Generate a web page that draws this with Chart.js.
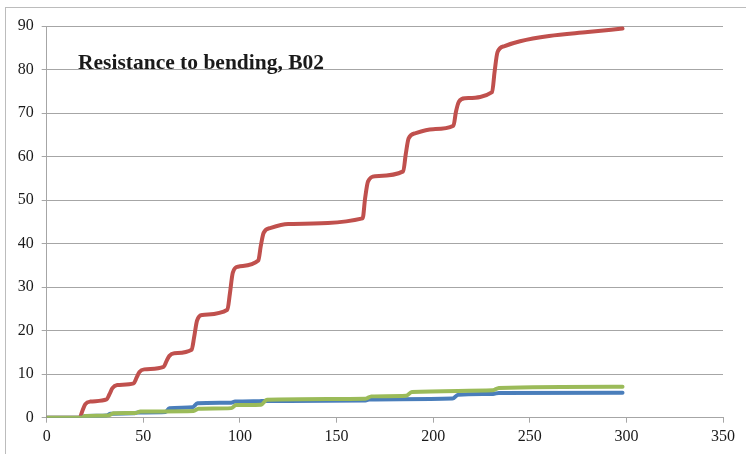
<!DOCTYPE html>
<html>
<head>
<meta charset="utf-8">
<script src="https://cdn.jsdelivr.net/npm/chart.js@4"></script>
<style>
  html, body { margin: 0; padding: 0; background: #fff; overflow: hidden; }
  #wrap { position: relative; width: 746px; height: 454px; }
  #frame { position: absolute; left: 5px; top: 7px; width: 800px; height: 500px; border: 1px solid #bcbcbc; }
  canvas { position: absolute; left: 0; top: 0; }
</style>
</head>
<body>
<div id="wrap">
  <div id="frame"></div>
  <canvas id="myChart" width="746" height="454"></canvas>
</div>
<script>
const chartTitle = "Resistance to bending, B02";

const redX = [0, 17, 18.5, 20, 22.5, 31, 32.5, 34, 36.5, 45, 46.5, 48, 50.5, 60.5, 62, 63.5, 66, 75,
  76.3, 77.8, 80.5, 93.5, 94.8, 96.3, 99, 109.5, 110.8, 112.3, 116, 125, 163.5, 164.8, 166.3, 170, 184.5,
  185.8, 187.3, 191, 200, 210.5, 211.8, 213.3, 216.5, 230.5, 231.8, 233.3, 237, 245, 260, 280, 298];
const redY = [0, 0, 1.6, 3.1, 3.7, 4.2, 5.4, 6.8, 7.5, 7.9, 9.2, 10.5, 11.1, 11.7, 13, 14.2, 14.8, 15.6,
  18.5, 22.3, 23.6, 24.8, 28.5, 33.3, 34.7, 36.1, 39.5, 42.5, 43.6, 44.5, 45.8, 50.5, 54.3, 55.5, 56.6,
  60.5, 64.2, 65.4, 66.3, 67.1, 70.3, 72.6, 73.4, 74.8, 79.5, 84, 85.4, 86.5, 87.7, 88.6, 89.4];

const blueX = [0, 18, 20, 31, 33, 45, 47, 61.5, 63.5, 75.5, 78, 95.5, 97.5, 110, 112.5, 165, 167, 210, 213, 231, 234, 298];
const blueY = [0, 0, 0.4, 0.5, 0.9, 1.0, 1.2, 1.3, 2.2, 2.4, 3.3, 3.45, 3.7, 3.8, 3.85, 3.95, 4.2, 4.4, 5.3, 5.45, 5.7, 5.75];

const greenX = [0, 18, 20, 32, 34.5, 46, 48.5, 76, 78.5, 95.5, 98, 111, 114, 165, 168, 186, 189, 231, 234, 298];
const greenY = [0, 0, 0.4, 0.5, 1.0, 1.1, 1.4, 1.55, 2.05, 2.2, 2.9, 3.0, 4.15, 4.35, 4.9, 5.05, 5.9, 6.3, 6.85, 7.1];

const toPoints = (xs, ys) => xs.map((x, i) => ({ x: x, y: ys[i] }));

const gridColor = "#a6a6a6";
const fontFamily = "'Liberation Serif', 'Times New Roman', serif";

const titlePlugin = {
  id: "inPlotTitle",
  afterDraw: (chart) => {
    const ctx = chart.ctx;
    ctx.save();
    ctx.font = "bold 21.5px " + fontFamily;
    ctx.fillStyle = "#1a1a1a";
    ctx.textBaseline = "alphabetic";
    ctx.fillText(chartTitle, 78, 69);
    ctx.restore();
  },
};

const lineStyle = {
  pointRadius: 0,
  borderWidth: 4,
  fill: false,
  cubicInterpolationMode: "monotone",
  borderCapStyle: "round",
  borderJoinStyle: "round",
};

new Chart(document.getElementById("myChart"), {
  type: "line",
  data: {
    datasets: [
      { ...lineStyle, label: "green", data: toPoints(greenX, greenY), borderColor: "#9BBB59" },
      { ...lineStyle, label: "blue", data: toPoints(blueX, blueY), borderColor: "#4A7EBB" },
      { ...lineStyle, label: "red", data: toPoints(redX, redY), borderColor: "#C0504D" },
    ],
  },
  options: {
    responsive: false,
    animation: false,
    layout: { padding: { top: 26, right: 23, left: 0, bottom: 0 } },
    plugins: {
      legend: { display: false },
      tooltip: { enabled: false },
    },
    scales: {
      x: {
        type: "linear",
        min: 0,
        max: 350,
        ticks: { stepSize: 50, padding: 4, color: "#1a1a1a", font: { family: fontFamily, size: 16 } },
        grid: { drawOnChartArea: false, drawTicks: true, tickLength: 5, color: gridColor },
        border: { display: true, color: gridColor },
        afterFit: (scale) => { scale.height = 36.3; },
      },
      y: {
        min: 0,
        max: 90,
        ticks: { stepSize: 10, padding: 8, color: "#1a1a1a", font: { family: fontFamily, size: 16 } },
        grid: { drawOnChartArea: true, drawTicks: true, tickLength: 5, color: gridColor },
        border: { display: true, color: gridColor },
        afterFit: (scale) => { scale.width = 46.7; },
      },
    },
  },
  plugins: [titlePlugin],
});
</script>
</body>
</html>
